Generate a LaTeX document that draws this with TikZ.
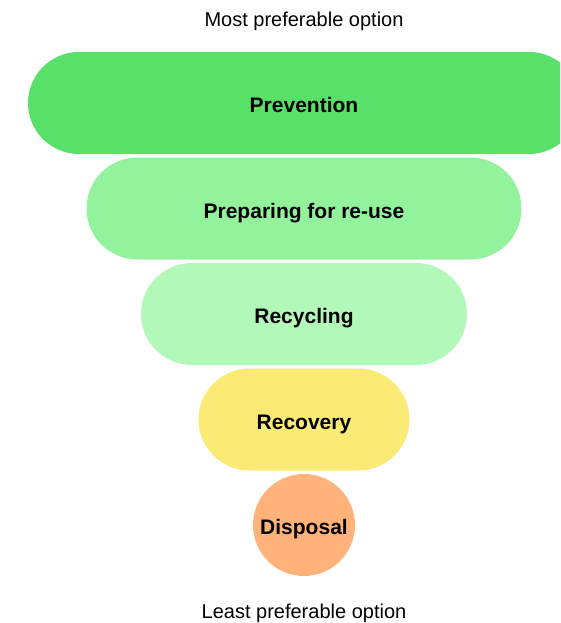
\documentclass[tikz,border=0pt]{standalone}
\usepackage{fontspec}
\setmainfont{Liberation Sans}
\usetikzlibrary{positioning}
\definecolor{prevgreen}{RGB}{88,224,104}
\definecolor{reusegreen}{RGB}{147,242,156}
\definecolor{recyclegreen}{RGB}{178,249,185}
\definecolor{recoveryyellow}{RGB}{251,235,117}
\definecolor{disposalorange}{RGB}{255,178,122}
\begin{document}
\begin{tikzpicture}[x=1pt, y=-1pt,
    tier/.style={rectangle, rounded corners=51pt, minimum height=102pt, inner sep=0pt, text height=20pt, text depth=1pt, font=\fontsize{21}{24}\selectfont\bfseries},
    caption/.style={font=\fontsize{20}{24}\selectfont}
]
\clip (0,0) rectangle (560,623);
% Captions
\node[caption] (most) at (304,21) {Most preferable option};
\node[caption] (least) at (304,613) {Least preferable option};

% Waste hierarchy tiers
\node[tier, fill=prevgreen, minimum width=552pt] (prevention) at (304,103) {Prevention};
\node[tier, fill=reusegreen, minimum width=435pt] (reuse) at (304,208.5) {Preparing for re-use};
\node[tier, fill=recyclegreen, minimum width=326pt] (recycling) at (304,314) {Recycling};
\node[tier, fill=recoveryyellow, minimum width=211pt] (recovery) at (304,419.5) {Recovery};
\node[tier, fill=disposalorange, minimum width=102pt] (disposal) at (304,525) {Disposal};
\end{tikzpicture}
\end{document}
